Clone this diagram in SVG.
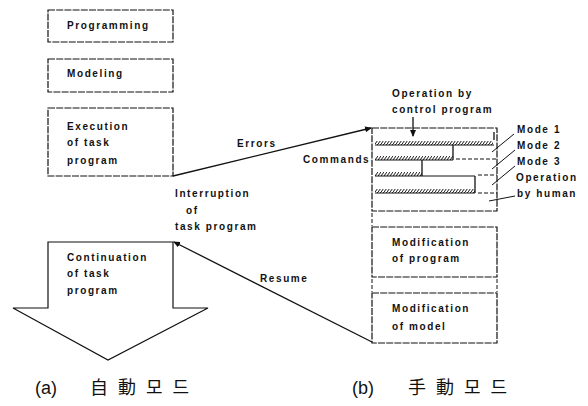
<svg xmlns="http://www.w3.org/2000/svg" width="588" height="406" viewBox="0 0 588 406">
<defs>
<style>
.box{fill:#fff;stroke:#111;stroke-width:1.2;stroke-dasharray:7 1.2}
.t{font-family:"Liberation Sans",Arial,sans-serif;font-size:10px;font-weight:bold;letter-spacing:1.6px;fill:#111}
.conn{stroke:#111;stroke-width:1.3;fill:none}
.thin{stroke:#111;stroke-width:1;fill:none}
.dash{stroke:#111;stroke-width:1;fill:none;stroke-dasharray:4 2}
.cap{font-family:"Liberation Sans","Noto Sans CJK KR",sans-serif;font-size:18px;fill:#111}
.cjk{font-family:"Noto Sans CJK KR","Noto Sans CJK JP",sans-serif;font-size:18px;letter-spacing:10px;fill:#111}
</style>
<pattern id="hatch" width="3" height="4" patternUnits="userSpaceOnUse">
<path d="M0,4 L3,0" stroke="#111" stroke-width="1"/>
</pattern>
<marker id="ah" markerWidth="7" markerHeight="6" refX="6" refY="3" orient="auto" markerUnits="userSpaceOnUse">
<path d="M0,0 L7,3 L0,6 Z" fill="#111"/>
</marker>
</defs>
<rect width="588" height="406" fill="#fff"/>

<g id="programming">
<rect class="box" x="48" y="10" width="125" height="32"/>
<text class="t" x="67" y="29">Programming</text>
</g>
<g id="modeling">
<rect class="box" x="48" y="59" width="125" height="33"/>
<text class="t" x="67" y="77">Modeling</text>
</g>
<g id="execution">
<rect class="box" x="48" y="108" width="125" height="68"/>
<text class="t" x="67" y="130">Execution</text>
<text class="t" x="67" y="146">of task</text>
<text class="t" x="67" y="164">program</text>
</g>
<g id="continuation">
<path d="M48,308 L48,242 L173,242 L173,308 L208,308 L108,360 L13,308 Z" fill="#fff" stroke="#111" stroke-width="1.2"/>
<text class="t" x="67" y="261">Continuation</text>
<text class="t" x="67" y="277">of task</text>
<text class="t" x="67" y="294">program</text>
</g>

<g id="control-modes">
<rect class="box" x="372" y="128" width="125" height="83"/>
<rect x="375" y="141" width="118" height="4" fill="url(#hatch)"/>
<line class="thin" x1="375" y1="145" x2="494" y2="145"/>
<rect x="375" y="156" width="78" height="4" fill="url(#hatch)"/>
<line class="thin" x1="375" y1="160" x2="453" y2="160"/>
<rect x="375" y="172" width="47" height="4" fill="url(#hatch)"/>
<line class="thin" x1="375" y1="176" x2="475" y2="176"/>
<rect x="375" y="189" width="100" height="4" fill="url(#hatch)"/>
<line class="thin" x1="375" y1="193" x2="475" y2="193"/>
<line class="conn" x1="453" y1="145" x2="453" y2="160"/>
<line class="conn" x1="422" y1="160" x2="422" y2="176"/>
<line class="conn" x1="475" y1="176" x2="475" y2="193"/>
<line class="conn" x1="494" y1="132" x2="494" y2="140"/>
<line class="dash" x1="456" y1="159" x2="497" y2="159"/>
<line class="dash" x1="478" y1="175" x2="497" y2="175"/>
<line class="dash" x1="478" y1="193" x2="497" y2="193"/>
<text class="t" x="392" y="97">Operation by</text>
<text class="t" x="392" y="113">control program</text>
<text class="t" x="517" y="133">Mode 1</text>
<text class="t" x="517" y="149">Mode 2</text>
<text class="t" x="517" y="165">Mode 3</text>
<text class="t" x="516" y="181">Operation</text>
<text class="t" x="517" y="197">by human</text>
</g>

<g id="mod-program">
<rect class="box" x="372" y="227" width="125" height="50"/>
<text class="t" x="392" y="246">Modification</text>
<text class="t" x="392" y="262">of program</text>
</g>
<g id="mod-model">
<rect class="box" x="372" y="293" width="125" height="50"/>
<text class="t" x="392" y="312">Modification</text>
<text class="t" x="392" y="330">of model</text>
</g>

<g id="connectors">
<line class="conn" x1="173" y1="176" x2="371" y2="128" marker-end="url(#ah)"/>
<line class="conn" x1="372" y1="342" x2="174" y2="242" marker-end="url(#ah)"/>
<line class="conn" x1="413" y1="117" x2="413" y2="136" marker-end="url(#ah)"/>
<line class="thin" x1="514" y1="134" x2="492" y2="152"/>
<line class="thin" x1="515" y1="150" x2="492" y2="169"/>
<line class="thin" x1="515" y1="166" x2="492" y2="185"/>
<line class="thin" x1="515" y1="196" x2="489" y2="201"/>
<line class="dash" x1="372" y1="213" x2="372" y2="226"/>
<line class="dash" x1="372" y1="279" x2="372" y2="292"/>
<line class="dash" x1="497" y1="279" x2="497" y2="292"/>
<text class="t" x="237" y="147">Errors</text>
<text class="t" x="303" y="163">Commands</text>
<text class="t" x="175" y="197">Interruption</text>
<text class="t" x="186" y="214">of</text>
<text class="t" x="175" y="230">task program</text>
<text class="t" x="260" y="282">Resume</text>
</g>

<g id="captions">
<text class="cap" x="35" y="394">(a)</text>
<text class="cjk" x="90" y="394">自動모드</text>
<text class="cap" x="352" y="394">(b)</text>
<text class="cjk" x="408" y="394">手動모드</text>
</g>
</svg>
